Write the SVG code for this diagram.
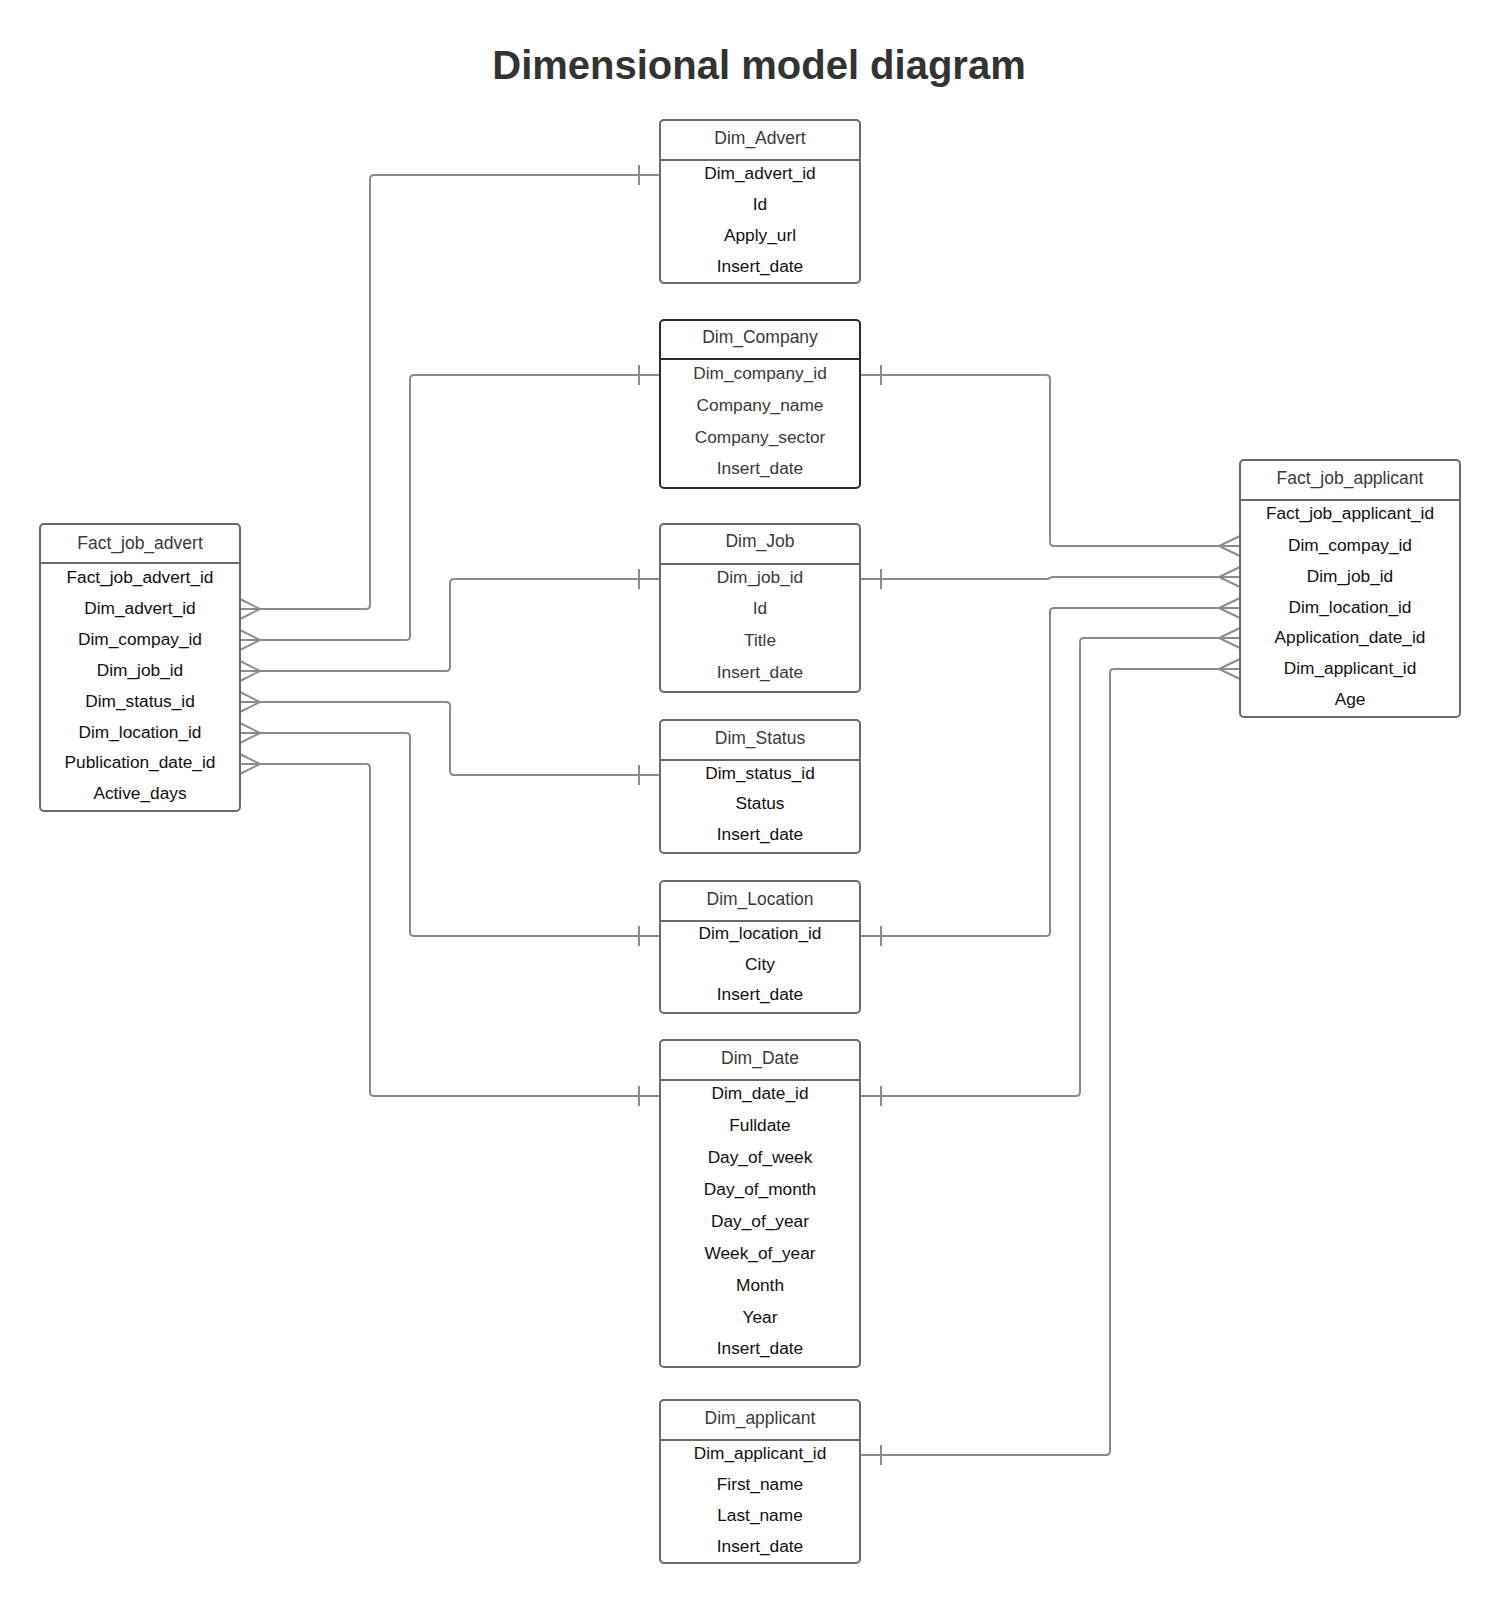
<svg xmlns="http://www.w3.org/2000/svg" xmlns:xlink="http://www.w3.org/1999/xlink" width="1500" height="1604" viewBox="0 0 1500 1604">
<style>
.box{fill:#fff;stroke:#6b6b6b;stroke-width:2}
.box.dark{stroke:#2a2a2a}
.div{stroke:#6b6b6b;stroke-width:2}
.div.dark{stroke:#2a2a2a}
.hd{font-family:"Liberation Sans",Arial,sans-serif;font-size:17.5px;fill:#3a3a3a;text-anchor:middle}
.rw{font-family:"Liberation Sans",Arial,sans-serif;font-size:17.3px;fill:#111;text-anchor:middle}
.rw.g{fill:#3a3a3a}
.title{font-family:"Liberation Sans",Arial,sans-serif;font-size:40px;font-weight:bold;fill:#333;text-anchor:middle}
.cn{fill:none;stroke:#8c8c8c;stroke-width:2}
</style>
<defs>
<path id="bar" d="M0,-10 V10"/>
<path id="crowL" d="M0,-10 L20,0 L0,10"/>
<path id="crowR" d="M0,-10 L-21,0 L0,10"/>
</defs>
<rect width="1500" height="1604" fill="#fff"/>
<text class="title" x="759" y="79">Dimensional model diagram</text>

<g id="connectors" class="cn">
<path d="M240,609 H366 Q370,609 370,605 V179 Q370,175 374,175 H660"/>
<path d="M240,640 H406 Q410,640 410,636 V379 Q410,375 414,375 H660"/>
<path d="M240,671 H446 Q450,671 450,667 V583 Q450,579 454,579 H660"/>
<path d="M240,702 H446 Q450,702 450,706 V771 Q450,775 454,775 H660"/>
<path d="M240,733 H406 Q410,733 410,737 V932 Q410,936 414,936 H660"/>
<path d="M240,764 H366 Q370,764 370,768 V1092 Q370,1096 374,1096 H660"/>
<path d="M860,375 H1046 Q1050,375 1050,379 V542 Q1050,546 1054,546 H1240"/>
<path d="M860,579 H1048 L1052,577 H1240"/>
<path d="M860,936 H1046 Q1050,936 1050,932 V612 Q1050,608 1054,608 H1240"/>
<path d="M860,1096 H1076 Q1080,1096 1080,1092 V642 Q1080,638 1084,638 H1240"/>
<path d="M860,1455 H1106 Q1110,1455 1110,1451 V673 Q1110,669 1114,669 H1240"/>
<use xlink:href="#crowL" x="240" y="609"/>
<use xlink:href="#crowL" x="240" y="640"/>
<use xlink:href="#crowL" x="240" y="671"/>
<use xlink:href="#crowL" x="240" y="702"/>
<use xlink:href="#crowL" x="240" y="733"/>
<use xlink:href="#crowL" x="240" y="764"/>
<use xlink:href="#crowR" x="1240" y="546"/>
<use xlink:href="#crowR" x="1240" y="577"/>
<use xlink:href="#crowR" x="1240" y="608"/>
<use xlink:href="#crowR" x="1240" y="638"/>
<use xlink:href="#crowR" x="1240" y="669"/>
<use xlink:href="#bar" x="639" y="175"/>
<use xlink:href="#bar" x="639" y="375"/>
<use xlink:href="#bar" x="639" y="579"/>
<use xlink:href="#bar" x="639" y="775"/>
<use xlink:href="#bar" x="639" y="936"/>
<use xlink:href="#bar" x="639" y="1096"/>
<use xlink:href="#bar" x="881" y="375"/>
<use xlink:href="#bar" x="881" y="579"/>
<use xlink:href="#bar" x="881" y="936"/>
<use xlink:href="#bar" x="881" y="1096"/>
<use xlink:href="#bar" x="881" y="1455"/>
</g>

<g id="fact_job_advert">
<rect class="box" x="40" y="524" width="200" height="287" rx="4"/>
<line class="div" x1="40" y1="563" x2="240" y2="563"/>
<text class="hd" x="140" y="549">Fact_job_advert</text>
<text class="rw" x="140" y="583">Fact_job_advert_id</text>
<text class="rw" x="140" y="614">Dim_advert_id</text>
<text class="rw" x="140" y="645">Dim_compay_id</text>
<text class="rw" x="140" y="676">Dim_job_id</text>
<text class="rw" x="140" y="707">Dim_status_id</text>
<text class="rw" x="140" y="738">Dim_location_id</text>
<text class="rw" x="140" y="768">Publication_date_id</text>
<text class="rw" x="140" y="799">Active_days</text>
</g>

<g id="dim_advert">
<rect class="box" x="660" y="120" width="200" height="163" rx="4"/>
<line class="div" x1="660" y1="160" x2="860" y2="160"/>
<text class="hd" x="760" y="144">Dim_Advert</text>
<text class="rw" x="760" y="179">Dim_advert_id</text>
<text class="rw" x="760" y="210">Id</text>
<text class="rw" x="760" y="241">Apply_url</text>
<text class="rw" x="760" y="272">Insert_date</text>
</g>

<g id="dim_company">
<rect class="box dark" x="660" y="320" width="200" height="168" rx="4"/>
<line class="div dark" x1="660" y1="359" x2="860" y2="359"/>
<text class="hd" x="760" y="343">Dim_Company</text>
<text class="rw g" x="760" y="379">Dim_company_id</text>
<text class="rw g" x="760" y="411">Company_name</text>
<text class="rw g" x="760" y="443">Company_sector</text>
<text class="rw g" x="760" y="474">Insert_date</text>
</g>

<g id="dim_job">
<rect class="box" x="660" y="524" width="200" height="168" rx="4"/>
<line class="div" x1="660" y1="564" x2="860" y2="564"/>
<text class="hd" x="760" y="547">Dim_Job</text>
<text class="rw g" x="760" y="583">Dim_job_id</text>
<text class="rw g" x="760" y="614">Id</text>
<text class="rw g" x="760" y="646">Title</text>
<text class="rw g" x="760" y="678">Insert_date</text>
</g>

<g id="dim_status">
<rect class="box" x="660" y="720" width="200" height="133" rx="4"/>
<line class="div" x1="660" y1="760" x2="860" y2="760"/>
<text class="hd" x="760" y="744">Dim_Status</text>
<text class="rw" x="760" y="779">Dim_status_id</text>
<text class="rw" x="760" y="809">Status</text>
<text class="rw" x="760" y="840">Insert_date</text>
</g>

<g id="dim_location">
<rect class="box" x="660" y="881" width="200" height="132" rx="4"/>
<line class="div" x1="660" y1="921" x2="860" y2="921"/>
<text class="hd" x="760" y="905">Dim_Location</text>
<text class="rw" x="760" y="939">Dim_location_id</text>
<text class="rw" x="760" y="970">City</text>
<text class="rw" x="760" y="1000">Insert_date</text>
</g>

<g id="dim_date">
<rect class="box" x="660" y="1040" width="200" height="327" rx="4"/>
<line class="div" x1="660" y1="1080" x2="860" y2="1080"/>
<text class="hd" x="760" y="1064">Dim_Date</text>
<text class="rw" x="760" y="1099">Dim_date_id</text>
<text class="rw" x="760" y="1131">Fulldate</text>
<text class="rw" x="760" y="1163">Day_of_week</text>
<text class="rw" x="760" y="1195">Day_of_month</text>
<text class="rw" x="760" y="1227">Day_of_year</text>
<text class="rw" x="760" y="1259">Week_of_year</text>
<text class="rw" x="760" y="1291">Month</text>
<text class="rw" x="760" y="1323">Year</text>
<text class="rw" x="760" y="1354">Insert_date</text>
</g>

<g id="dim_applicant">
<rect class="box" x="660" y="1400" width="200" height="163" rx="4"/>
<line class="div" x1="660" y1="1440" x2="860" y2="1440"/>
<text class="hd" x="760" y="1424">Dim_applicant</text>
<text class="rw" x="760" y="1459">Dim_applicant_id</text>
<text class="rw" x="760" y="1490">First_name</text>
<text class="rw" x="760" y="1521">Last_name</text>
<text class="rw" x="760" y="1552">Insert_date</text>
</g>

<g id="fact_job_applicant">
<rect class="box" x="1240" y="460" width="220" height="257" rx="4"/>
<line class="div" x1="1240" y1="500" x2="1460" y2="500"/>
<text class="hd" x="1350" y="484">Fact_job_applicant</text>
<text class="rw" x="1350" y="519">Fact_job_applicant_id</text>
<text class="rw" x="1350" y="551">Dim_compay_id</text>
<text class="rw" x="1350" y="582">Dim_job_id</text>
<text class="rw" x="1350" y="613">Dim_location_id</text>
<text class="rw" x="1350" y="643">Application_date_id</text>
<text class="rw" x="1350" y="674">Dim_applicant_id</text>
<text class="rw" x="1350" y="705">Age</text>
</g>
</svg>
